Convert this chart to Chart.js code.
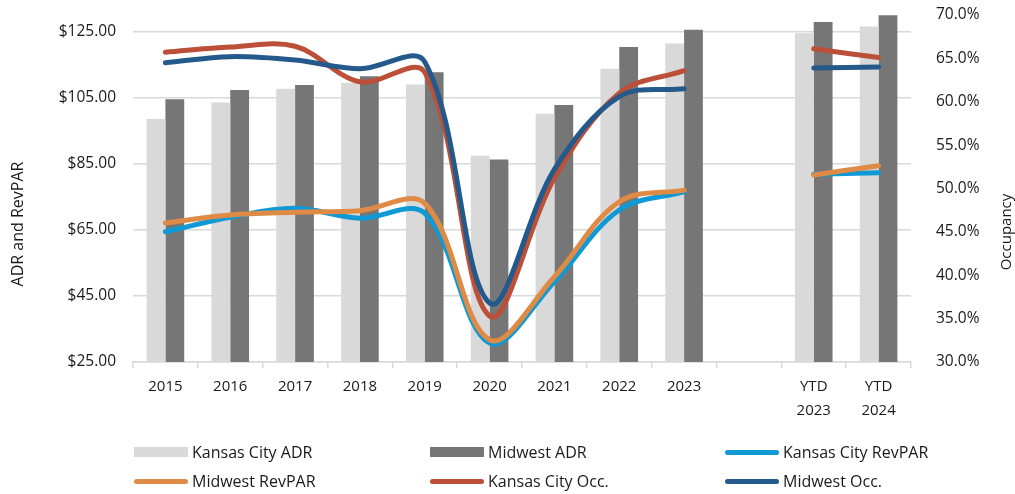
<!DOCTYPE html>
<html>
<head>
<meta charset="utf-8">
<script src="https://cdn.jsdelivr.net/npm/chart.js@4.4.1/dist/chart.umd.min.js"></script>
<style>
  html, body { margin: 0; padding: 0; background: #fff; }
  #wrap { position: relative; width: 1015px; height: 494px; }
  #legend .item { position: absolute; display: flex; align-items: center; height: 24px; margin-top: -12px;
                  font: 16px "Open Sans", sans-serif; color: #1a1a1a; white-space: nowrap; }
  #legend .sym { margin-right: 4px; }
</style>
</head>
<body>
<div id="wrap">
  <canvas id="c" width="1015" height="494"></canvas>
  <div id="legend"></div>
</div>
<script>
// Categories (a blank slot separates the full years from the year-to-date pair)
const categories = ['2015', '2016', '2017', '2018', '2019', '2020', '2021', '2022', '2023', '', ['YTD', '2023'], ['YTD', '2024']];

// Average daily rate, USD
const kcADR = [98.5, 103.5, 107.7, 109.5, 109.0, 87.4, 100.1, 113.7, 121.4, null, 124.5, 126.5];
const mwADR = [104.5, 107.3, 108.8, 111.5, 112.7, 86.3, 102.8, 120.3, 125.5, null, 127.9, 129.9];

// Revenue per available room, USD
const kcRevPAR = [64.4, 68.8, 71.5, 68.5, 70.0, 30.7, 49.3, 71.0, 76.5, null, 81.8, 82.3];
const mwRevPAR = [67.1, 69.5, 70.3, 70.8, 73.0, 31.7, 50.8, 73.5, 77.0, null, 81.6, 84.4];

// Occupancy, percent
const kcOcc = [65.7, 66.3, 66.4, 62.3, 63.4, 35.3, 51.2, 61.0, 63.6, null, 66.1, 65.1];
const mwOcc = [64.5, 65.2, 64.8, 63.8, 64.6, 36.8, 52.2, 60.6, 61.5, null, 63.9, 64.0];

// Axis tick values
const dollarTicks = [25, 45, 65, 85, 105, 125];
const occTicks = [30, 35, 40, 45, 50, 55, 60, 65, 70];

const FONT = '"Open Sans", sans-serif';
const GRID = '#d9d9d9';

const lineStyle = {
  type: 'line', borderWidth: 5, pointRadius: 0, pointHoverRadius: 0, tension: 0.35,
  borderCapStyle: 'round', borderJoinStyle: 'round', fill: false, spanGaps: false
};

// Rotated axis titles, both reading bottom-to-top
const axisTitles = {
  id: 'axisTitles',
  afterDraw(chart) {
    const ctx = chart.ctx;
    ctx.save();
    ctx.fillStyle = '#1a1a1a';
    ctx.textAlign = 'center';
    ctx.textBaseline = 'middle';
    [['ADR and RevPAR', 18, 224, 16], ['Occupancy', 1007, 232, 15]].forEach(([t, x, y, size]) => {
      ctx.save();
      ctx.font = size + 'px ' + FONT;
      ctx.translate(x, y);
      ctx.rotate(-Math.PI / 2);
      ctx.fillText(t, 0, 0);
      ctx.restore();
    });
    ctx.restore();
  }
};

// Fixed side widths for the value axes; label overhang is not reserved
const fitSide = w => s => { s.width = w; s.paddingTop = 0; s.paddingBottom = 0; };

const chart = new Chart(document.getElementById('c'), {
  type: 'bar',
  data: {
    labels: categories,
    datasets: [
      { type: 'bar', label: 'Kansas City ADR', data: kcADR, backgroundColor: '#d9d9d9', yAxisID: 'y', order: 9 },
      { type: 'bar', label: 'Midwest ADR', data: mwADR, backgroundColor: '#767676', yAxisID: 'y', order: 10 },
      { ...lineStyle, label: 'Kansas City RevPAR', data: kcRevPAR, borderColor: '#0f9ad6', backgroundColor: '#0f9ad6', yAxisID: 'y', order: 4 },
      { ...lineStyle, label: 'Midwest RevPAR', data: mwRevPAR, borderColor: '#df8b45', backgroundColor: '#df8b45', yAxisID: 'y', order: 3 },
      { ...lineStyle, label: 'Kansas City Occ.', data: kcOcc, borderColor: '#bb4f37', backgroundColor: '#bb4f37', yAxisID: 'y1', order: 2 },
      { ...lineStyle, label: 'Midwest Occ.', data: mwOcc, borderColor: '#235a8b', backgroundColor: '#235a8b', yAxisID: 'y1', order: 1 }
    ]
  },
  options: {
    responsive: false,
    animation: false,
    events: [],
    layout: { padding: { top: 15, left: 0, right: 0, bottom: 0 } },
    datasets: { bar: { categoryPercentage: 0.58, barPercentage: 1.0 } },
    plugins: { legend: { display: false }, tooltip: { enabled: false } },
    scales: {
      x: {
        grid: { offset: true, drawOnChartArea: false, drawTicks: true, tickLength: 6, color: GRID, lineWidth: 1.5 },
        border: { display: true, color: GRID, width: 1.5 },
        ticks: { font: { family: FONT, size: 15, lineHeight: 1.65 }, color: '#1a1a1a', padding: 6, maxRotation: 0, autoSkip: false },
        afterFit: s => { s.height = 132; }
      },
      y: {
        position: 'left', min: 25, max: 130,
        afterBuildTicks: s => { s.ticks = dollarTicks.map(v => ({ value: v })); },
        grid: { color: GRID, lineWidth: 1.5, drawTicks: false },
        border: { display: false },
        ticks: { font: { family: FONT, size: 15.5 }, color: '#1a1a1a', padding: 17, callback: v => '$' + v.toFixed(2) },
        afterFit: fitSide(133)
      },
      y1: {
        position: 'right', min: 30, max: 70,
        afterBuildTicks: s => { s.ticks = occTicks.map(v => ({ value: v })); },
        grid: { display: false },
        border: { display: false },
        ticks: { font: { family: FONT, size: 15.5 }, color: '#1a1a1a', padding: 17, callback: v => v.toFixed(1) + '%' },
        afterFit: fitSide(104)
      }
    }
  },
  plugins: [axisTitles]
});

// Legend laid out as a 3-column grid under the plot, built from the datasets
const legendCols = [134, 430, 725];
const legendRows = [452, 481];
const legendEl = document.getElementById('legend');
chart.data.datasets.forEach((ds, i) => {
  const item = document.createElement('div');
  item.className = 'item';
  item.style.left = legendCols[i % 3] + 'px';
  item.style.top = legendRows[Math.floor(i / 3)] + 'px';
  const sym = document.createElement('span');
  sym.className = 'sym';
  sym.style.display = 'inline-block';
  sym.style.width = '54px';
  if (ds.type === 'bar') {
    sym.style.height = '10px';
    sym.style.background = ds.backgroundColor;
  } else {
    sym.style.height = '5px';
    sym.style.borderRadius = '3px';
    sym.style.background = ds.borderColor;
  }
  const txt = document.createElement('span');
  txt.textContent = ds.label;
  item.appendChild(sym);
  item.appendChild(txt);
  legendEl.appendChild(item);
});
</script>
</body>
</html>
